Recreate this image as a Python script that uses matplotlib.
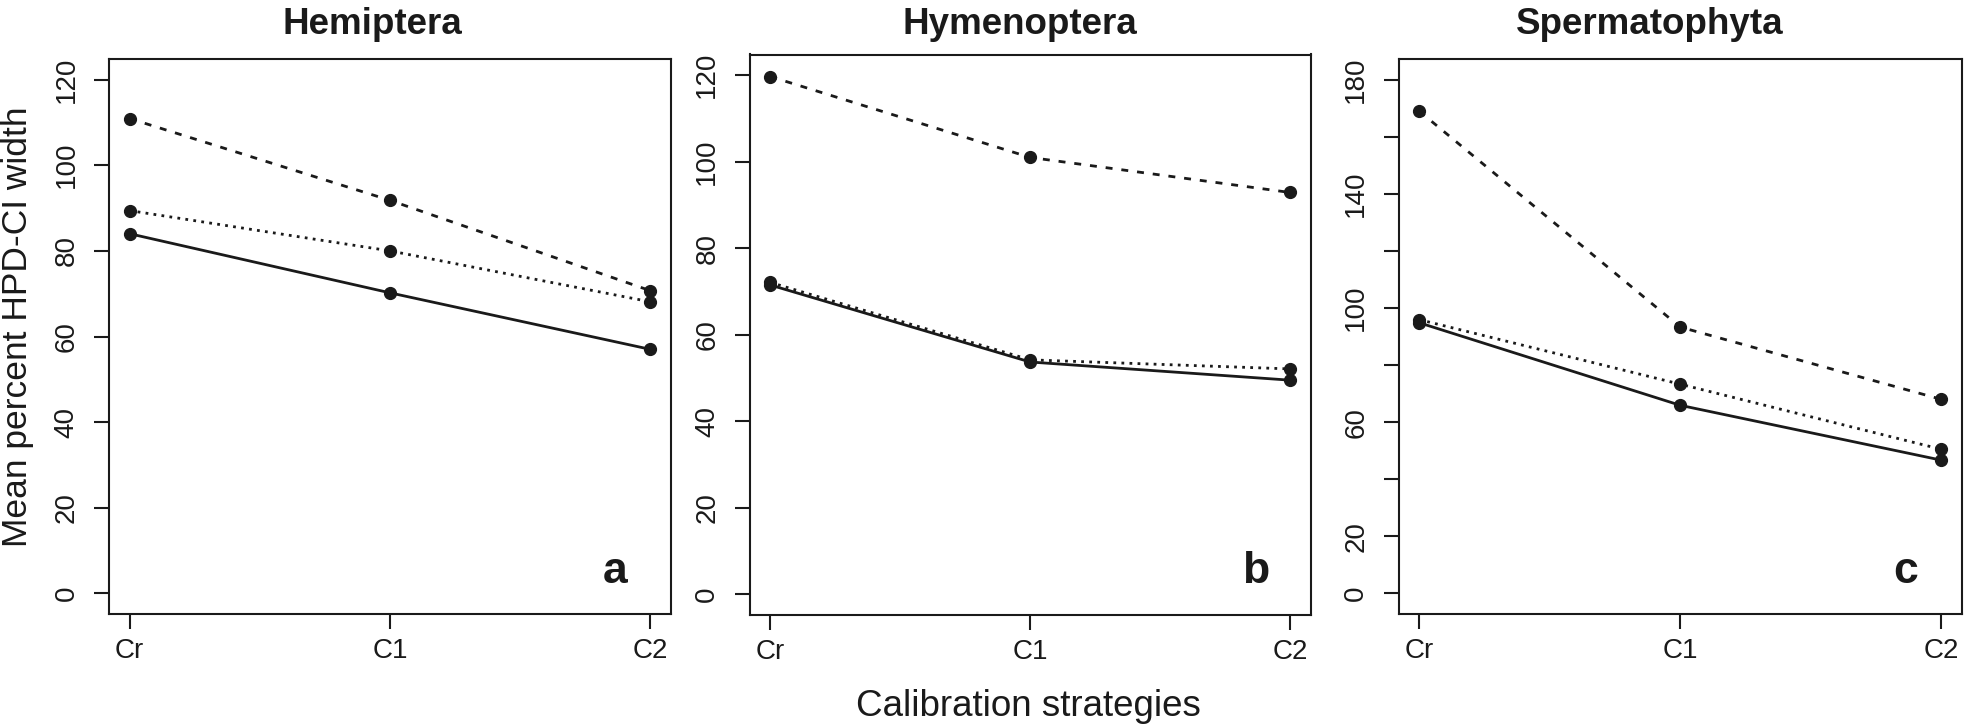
import matplotlib
matplotlib.use("Agg")
import matplotlib.pyplot as plt

plt.rcParams['font.family'] = ['Liberation Sans', 'DejaVu Sans']

# data
strategies = ["Cr", "C1", "C2"]
groups = ["Hemiptera", "Hymenoptera", "Spermatophyta"]
panel_letters = ["a", "b", "c"]

hemi_dashed = [110.9, 91.8, 70.7]
hemi_dotted = [89.4, 80.0, 68.1]
hemi_solid = [84.0, 70.2, 57.0]

hyme_dashed = [119.7, 101.0, 92.9]
hyme_dotted = [72.1, 54.2, 52.1]
hyme_solid = [71.5, 53.7, 49.5]

sperm_dashed = [168.9, 93.3, 68.0]
sperm_dotted = [95.9, 73.3, 50.5]
sperm_solid = [94.8, 65.9, 46.7]

y_ticks_ab = [0, 20, 40, 60, 80, 100, 120]
y_ticks_c = [0, 20, 40, 60, 80, 100, 120, 140, 160, 180]
y_labels_c = ["0", "20", "", "60", "", "100", "", "140", "", "180"]

# ------------------------------------------
# layout (pixels in a 1968x724 figure)
# ------------------------------------------
W, H = 1968, 724
boxes = [(108.8, 671.1, 59.0, 614.0),
         (749.5, 1310.8, 54.5, 615.0),
         (1398.5, 1962.0, 59.0, 614.0)]
title_cx = [372.5, 1019.5, 1650.0]
letter_cx = [615.0, 1255.5, 1905.6]

ink = "#1a1a1a"
fig = plt.figure(figsize=(W / 100, H / 100), dpi=100)

series = [
    (hemi_dashed, hemi_dotted, hemi_solid),
    (hyme_dashed, hyme_dotted, hyme_solid),
    (sperm_dashed, sperm_dotted, sperm_solid),
]

for i, (l, r, t, b) in enumerate(boxes):
    ax = fig.add_axes([l / W, 1 - b / H, (r - l) / W, (b - t) / H])
    dashed, dotted, solid = series[i]
    x = [1, 2, 3]
    kw = dict(color=ink, lw=2, marker="o", ms=8.5, mec=ink, mfc=ink)
    ax.plot(x, dashed, ls=(0, (2.5, 3.2)), **kw)
    ax.plot(x, dotted, ls=(0, (1, 1.9)), **kw)
    ax.plot(x, solid, ls="-", **kw)

    ax.set_xlim(0.92, 3.08)
    ax.set_xticks(x)
    ax.set_xticklabels(strategies)
    if i < 2:
        ax.set_ylim(-4.8, 124.8)
        ax.set_yticks(y_ticks_ab)
        ax.set_yticklabels([str(v) for v in y_ticks_ab], rotation=90, va="center")
    else:
        ax.set_ylim(-7.2, 187.2)
        ax.set_yticks(y_ticks_c)
        ax.set_yticklabels(y_labels_c, rotation=90, va="center")

    ax.tick_params(direction="out", length=10.5, width=1.5, colors=ink,
                   labelsize=20)
    ax.tick_params(axis="x", pad=7)
    ax.tick_params(axis="y", pad=10.5)
    for s in ax.spines.values():
        s.set_linewidth(1.5)
        s.set_color(ink)

    fig.text(title_cx[i] / W, 1 - 34.5 / H, groups[i], ha="center",
             va="baseline", fontsize=26.5, fontweight="bold", color=ink)
    fig.text(letter_cx[i] / W, 1 - 583.3 / H, panel_letters[i], ha="center",
             va="baseline", fontsize=32, fontweight="bold", color=ink)

fig.text(18 / W, 1 - 327 / H, "Mean percent HPD-CI width", rotation=90,
         ha="center", va="center", fontsize=25.5, color=ink)
fig.text(1028 / W, 1 - 715.5 / H, "Calibration strategies", ha="center",
         va="baseline", fontsize=26.5, color=ink)

fig.savefig("out.png", dpi=100, facecolor="white")
